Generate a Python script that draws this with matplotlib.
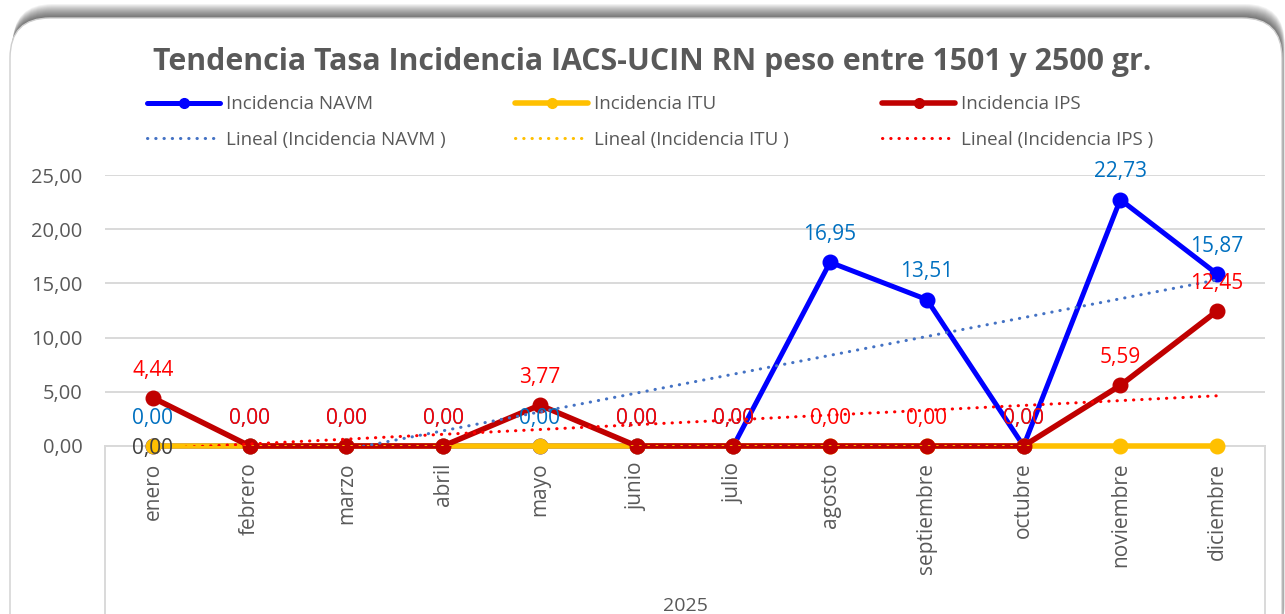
import numpy as np
import matplotlib
matplotlib.use("Agg")
import matplotlib.pyplot as plt
from matplotlib.patches import FancyBboxPatch
from matplotlib.lines import Line2D

# ---- data -------------------------------------------------------------
months = ["enero", "febrero", "marzo", "abril", "mayo", "junio", "julio",
          "agosto", "septiembre", "octubre", "noviembre", "diciembre"]
navm = [0.00, 0.00, 0.00, 0.00, 0.00, 0.00, 0.00, 16.95, 13.51, 0.00, 22.73, 15.87]
itu = [0.00, 0.00, 0.00, 0.00, 0.00, 0.00, 0.00, 0.00, 0.00, 0.00, 0.00, 0.00]
ips = [4.44, 0.00, 0.00, 0.00, 3.77, 0.00, 0.00, 0.00, 0.00, 0.00, 5.59, 12.45]
year_label = "2025"
y_ticks = [0, 5, 10, 15, 20, 25]
title = "Tendencia Tasa Incidencia IACS-UCIN RN peso entre 1501 y 2500 gr."
series_names = ["Incidencia NAVM", "Incidencia ITU", "Incidencia IPS"]
trend_names = ["Lineal (Incidencia NAVM )", "Lineal (Incidencia ITU )",
               "Lineal (Incidencia IPS )"]

FONT = ["Open Sans", "DejaVu Sans"]
plt.rcParams["font.family"] = FONT
GREY_TXT = "#595959"
GRID = "#d9d9d9"

C_NAVM, C_ITU, C_IPS = "#0000FF", "#FFC000", "#C00000"
C_NAVM_T, C_ITU_T, C_IPS_T = "#4472C4", "#FFC000", "#FF0000"
LBL_NAVM, LBL_IPS, LBL_ITU = "#0070C0", "#FF0000", "#404040"


def fmt(v):
    return f"{v:.2f}".replace(".", ",")


W, H = 1285, 614
fig = plt.figure(figsize=(W / 100, H / 100), dpi=100)

# ---- card background with soft shadow ---------------------------------
bg = fig.add_axes([0, 0, 1, 1], zorder=0)
bg.set_xlim(0, W)
bg.set_ylim(H, 0)
bg.axis("off")
for k in range(1, 15):
    bg.add_patch(FancyBboxPatch((10 + k * 0.2, 18 - k), 1272, 640,
                                boxstyle="round,pad=0,rounding_size=40",
                                fc="black", ec="none", alpha=0.05))
bg.add_patch(FancyBboxPatch((10, 18), 1272, 640,
                            boxstyle="round,pad=0,rounding_size=40",
                            fc="white", ec="#cfcfcf", lw=1.0))

# ---- plot area --------------------------------------------------------
x0, x1, ytop, ybot = 104.6, 1265.4, 175, 446
ax = fig.add_axes([x0 / W, 1 - ybot / H, (x1 - x0) / W, (ybot - ytop) / H],
                  zorder=2)
ax.set_facecolor("none")
x = np.arange(1, len(months) + 1)
ax.set_xlim(0.5, len(months) + 0.5)
ax.set_ylim(0, 25)

ax.set_yticks(y_ticks)
ax.set_yticklabels([fmt(v) for v in y_ticks])
ax.set_xticks(x)
ax.set_xticklabels(months, rotation=90, va="top", ha="center")
ax.tick_params(axis="y", length=0, pad=16, labelsize=14.5, labelcolor=GREY_TXT)
ax.tick_params(axis="x", length=0, pad=12, labelsize=15, labelcolor=GREY_TXT)
ax.yaxis.grid(True, color=GRID, lw=1.4)
ax.set_axisbelow(True)
for s in ["top", "right", "left"]:
    ax.spines[s].set_visible(False)
ax.spines["bottom"].set_color(GRID)
ax.spines["bottom"].set_linewidth(1.4)

# category-axis frame edges running down to the year label
for xa in (0, 1):
    ax.plot([xa, xa], [0, -0.7], transform=ax.transAxes, color=GRID,
            lw=1.4, clip_on=False, zorder=1)
ax.text(0.5, -0.59, year_label, transform=ax.transAxes, ha="center",
        va="center", fontsize=14, color=GREY_TXT)

# ---- series -----------------------------------------------------------
line_kw = dict(marker="o", markersize=10.5, clip_on=False, solid_capstyle="round")
ax.plot(x, navm, color=C_NAVM, lw=3.6, zorder=3, **line_kw)
ax.plot(x, itu, color=C_ITU, lw=4.0, zorder=4, **line_kw)
ax.plot(x, ips, color=C_IPS, lw=4.0, zorder=5, **line_kw)

# linear trend lines
dot = (0, (0.1, 2.6))
for vals, col in ((navm, C_NAVM_T), (itu, C_ITU_T), (ips, C_IPS_T)):
    m, b = np.polyfit(x, vals, 1)
    ax.plot(x, m * x + b, color=col, lw=2.2, linestyle=dot,
            dash_capstyle="round", zorder=6, clip_on=True)

# ---- data labels --------------------------------------------------------
lab_kw = dict(textcoords="offset points", ha="center", va="center",
              fontsize=15, annotation_clip=False, zorder=8)
for xi, v in zip(x, navm):
    ax.annotate(fmt(v), (xi, v), xytext=(0, 20), color=LBL_NAVM, **lab_kw)
for xi, v in zip(x, ips):
    ax.annotate(fmt(v), (xi, v), xytext=(0, 20), color=LBL_IPS, **lab_kw)
ax.annotate(fmt(itu[0]), (x[0], itu[0]), xytext=(0, -1.5), color=LBL_ITU,
            **lab_kw)

# ---- title --------------------------------------------------------------
fig.text(652 / W, 1 - 62 / H, title, ha="center", va="center",
         fontsize=21.8, fontweight="bold", color=GREY_TXT)

# ---- legend (three columns, series on top, trends below) ---------------
col_x = [147, 515, 882]
styles = [(C_NAVM, 3.6, C_NAVM_T), (C_ITU, 4.0, C_ITU_T), (C_IPS, 4.0, C_IPS_T)]
for cx, name, tname, (c, lw, tc) in zip(col_x, series_names, trend_names, styles):
    h1 = Line2D([], [], color=c, lw=lw, marker="o", markersize=7,
                solid_capstyle="round")
    h2 = Line2D([], [], color=tc, lw=2.2, linestyle=dot, dash_capstyle="round")
    fig.legend([h1, h2], [name, tname], loc="center left",
               bbox_to_anchor=(cx / W, 1 - 122 / H), frameon=False,
               fontsize=13.5, labelcolor=GREY_TXT, handlelength=3.9,
               handletextpad=0.3, labelspacing=0.95, borderpad=0,
               borderaxespad=0, numpoints=1)

fig.savefig("out.png", dpi=100)
